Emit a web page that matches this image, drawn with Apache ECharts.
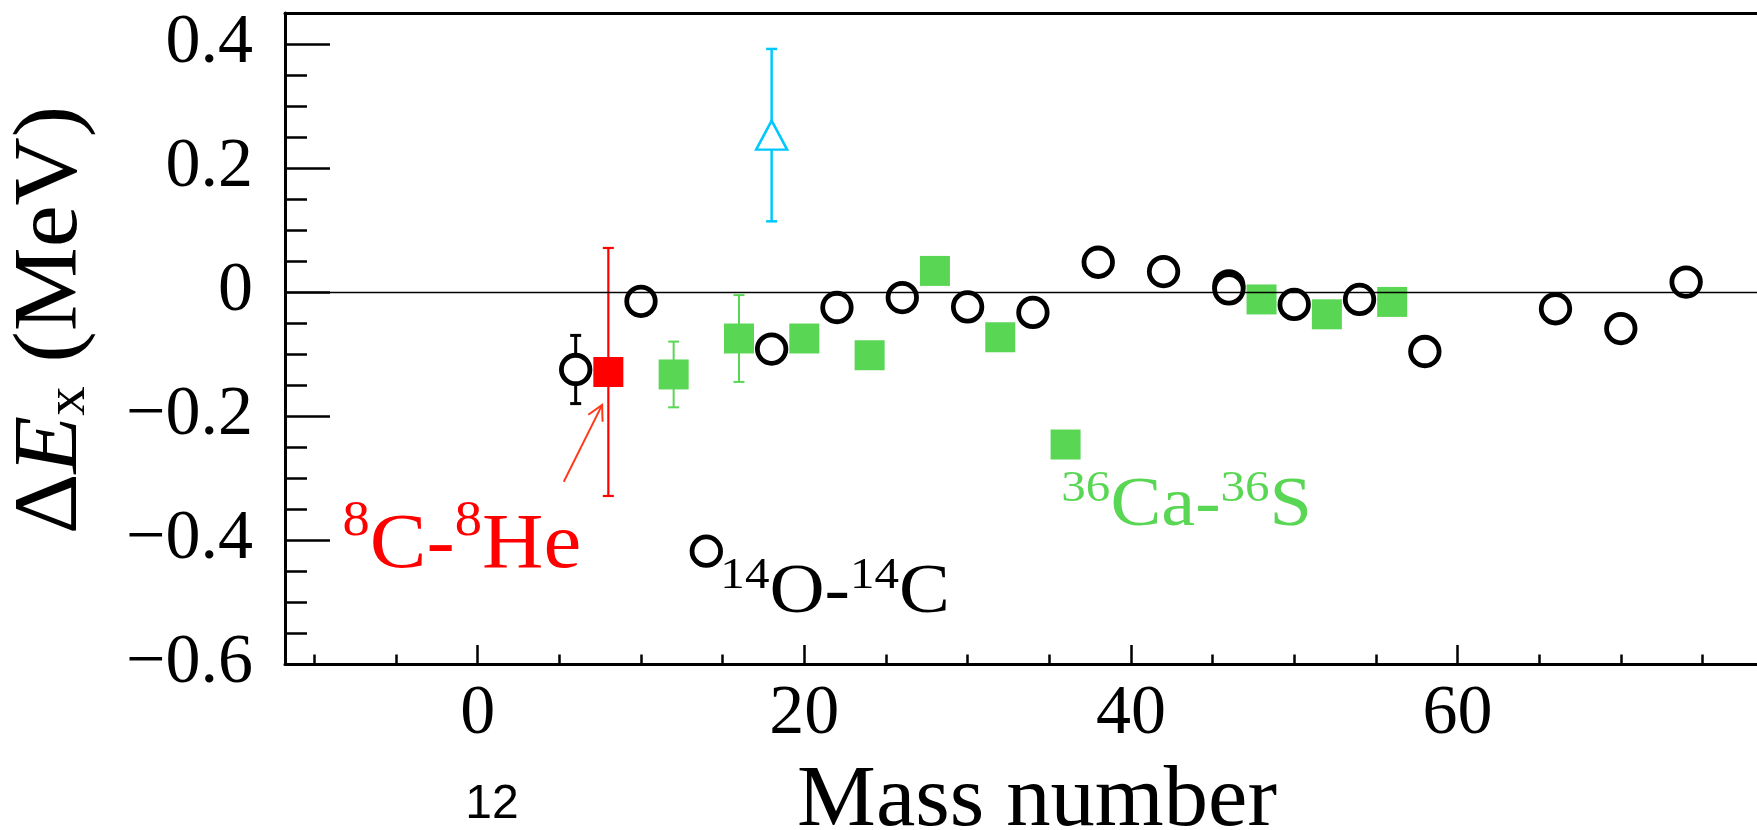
<!DOCTYPE html>
<html>
<head>
<meta charset="utf-8">
<script src="https://cdn.jsdelivr.net/npm/echarts@6/dist/echarts.min.js"></script>
<style>
  html, body { margin: 0; padding: 0; background: #fff; }
  #chart { width: 1757px; height: 830px; }
</style>
</head>
<body>
<div id="chart"></div>
<script>
// Excitation-energy differences of mirror nuclei versus mass number

// Open black circles (systematics)
const circleMass  = [6, 10, 14, 18, 22, 26, 30, 34, 38, 42, 46, 46, 50, 54, 58, 66, 70, 74];
const circleDelta = [-0.125, -0.015, -0.418, -0.092, -0.025, -0.009, -0.024, -0.033, 0.048, 0.033,
                     0.010, 0.005, -0.020, -0.012, -0.096, -0.027, -0.059, 0.016];
const circleErr   = [0.055, 0, 0, 0, 0, 0, 0, 0, 0, 0, 0, 0, 0, 0, 0, 0, 0, 0];

// Filled green squares
const squareMass  = [12, 16, 20, 24, 28, 32, 36, 48, 52, 56];
const squareDelta = [-0.133, -0.075, -0.075, -0.102, 0.034, -0.073, -0.246, -0.012, -0.036, -0.016];
const squareErr   = [0.053, 0.070, 0, 0, 0, 0, 0, 0, 0, 0];

// 8C - 8He (red square)
const c8Mass  = [8];
const c8Delta = [-0.129];
const c8Err   = [0.2];

// Open cyan triangle
const triMass  = [18];
const triDelta = [0.253];
const triErr   = [0.139];

// Axis ticks
const xMajorTicks = [0, 20, 40, 60];
const xMinorTicks = [-10, -5, 5, 10, 15, 25, 30, 35, 45, 50, 55, 65, 70, 75];
const yMajorTicks = [-0.6, -0.4, -0.2, 0, 0.2, 0.4];
const yMinorTicks = [-0.55, -0.5, -0.45, -0.35, -0.3, -0.25, -0.15, -0.1, -0.05,
                     0.05, 0.1, 0.15, 0.25, 0.3, 0.35];

// Annotation labels (anchor = top-left of the text block, in data units)
const labelTexts = ['{s|8}{m|C-}{s|8}{m|He}', '{s|14}{m|O-}{s|14}{m|C}', '{s|36}{m|Ca-}{s|36}{m|S}'];
const labelMass  = [-8.28, 14.86, 35.74];
const labelDelta = [-0.331, -0.422, -0.281];

// Arrow pointing at the 8C point: [tailMass, tailDelta, tipMass, tipDelta]
const arrowPath = [5.27, -0.306, 7.62, -0.182];

const SERIF = '"Liberation Serif", "Times New Roman", serif';
const GREEN = '#5ad655';
const RED = '#ff0000';
const CYAN = '#00c8ff';
const ARROW = '#ff3a1a';

// main text sits on the line bottom, superscripts hang from the line top;
// the line height of the main tokens sets how far the superscripts are raised
function rich(color, mainSize, mainLine, supSize) {
  return {
    m: { fill: color, color: color, fontFamily: SERIF, fontSize: mainSize,
         font: mainSize + 'px ' + SERIF, lineHeight: mainLine, verticalAlign: 'bottom' },
    s: { fill: color, color: color, fontFamily: SERIF, fontSize: supSize,
         font: supSize + 'px ' + SERIF, lineHeight: supSize, verticalAlign: 'top' }
  };
}
const labelRich = [
  rich(RED, 78, 88, 50),
  rich('#000', 70, 75, 45),
  rich(GREEN, 70, 75, 45)
];

function rows(mass, delta, err) {
  return mass.map((m, i) => [m, delta[i], err[i]]);
}

function errorSeries(mass, delta, err, color, width, cap) {
  return {
    type: 'custom',
    z: 2,
    silent: true,
    data: rows(mass, delta, err),
    encode: { x: 0, y: 1 },
    renderItem: function (params, api) {
      const e = api.value(2);
      if (!e) return null;
      const x = api.value(0), y = api.value(1);
      const top = api.coord([x, y + e]);
      const bot = api.coord([x, y - e]);
      const st = { stroke: color, lineWidth: width };
      return {
        type: 'group',
        children: [
          { type: 'line', shape: { x1: top[0], y1: top[1], x2: bot[0], y2: bot[1] }, style: st },
          { type: 'line', shape: { x1: top[0] - cap, y1: top[1], x2: top[0] + cap, y2: top[1] }, style: st },
          { type: 'line', shape: { x1: bot[0] - cap, y1: bot[1], x2: bot[0] + cap, y2: bot[1] }, style: st }
        ]
      };
    }
  };
}

const chart = echarts.init(document.getElementById('chart'), null, { renderer: 'canvas' });

const xMin = -11.8, xMax = 78.34;
const yMin = -0.6, yMax = 0.45;

function xAxisBase(extra) {
  return Object.assign({
    type: 'value', min: xMin, max: xMax, position: 'bottom',
    splitLine: { show: false },
    axisLine: { show: false, onZero: false },
    axisTick: { show: false },
    axisLabel: { show: false }
  }, extra);
}
function yAxisBase(extra) {
  return Object.assign({
    type: 'value', min: yMin, max: yMax, position: 'left',
    splitLine: { show: false },
    axisLine: { show: false, onZero: false },
    axisTick: { show: false },
    axisLabel: { show: false }
  }, extra);
}

const option = {
  animation: false,
  backgroundColor: '#fff',
  grid: { left: 285, right: 0, top: 13, bottom: 166, outerBoundsMode: 'none' },
  xAxis: [
    xAxisBase({
      axisLine: { show: true, onZero: false, lineStyle: { color: '#000', width: 3 } },
      axisTick: { show: true, inside: true, length: 19, customValues: xMajorTicks,
                  lineStyle: { color: '#000', width: 2.5 } },
      axisLabel: { show: true, customValues: xMajorTicks, margin: 16, color: '#000',
                   fontFamily: SERIF, fontSize: 70, formatter: v => String(v) }
    }),
    xAxisBase({
      axisTick: { show: true, inside: true, length: 9.5, customValues: xMinorTicks,
                  lineStyle: { color: '#000', width: 2.5 } }
    }),
    xAxisBase({
      position: 'top',
      axisLine: { show: true, onZero: false, lineStyle: { color: '#000', width: 3 } }
    })
  ],
  yAxis: [
    yAxisBase({
      axisLine: { show: true, onZero: false, lineStyle: { color: '#000', width: 3 } },
      axisTick: { show: true, inside: true, length: 45, customValues: yMajorTicks,
                  lineStyle: { color: '#000', width: 2.5 } },
      axisLabel: { show: true, customValues: yMajorTicks, margin: 32, color: '#000',
                   fontFamily: SERIF, fontSize: 70,
                   formatter: v => (Math.abs(v) < 1e-9 ? '0' : v.toFixed(1).replace('-', '\u2212')) }
    }),
    yAxisBase({
      axisTick: { show: true, inside: true, length: 22, customValues: yMinorTicks,
                  lineStyle: { color: '#000', width: 2.5 } }
    })
  ],
  series: [
    errorSeries(circleMass, circleDelta, circleErr, '#000', 3, 5.5),
    errorSeries(squareMass, squareDelta, squareErr, GREEN, 2, 5.5),
    errorSeries(c8Mass, c8Delta, c8Err, RED, 2.2, 5.5),
    errorSeries(triMass, triDelta, triErr, CYAN, 2.5, 5.5),
    {
      type: 'scatter', z: 3, silent: true,
      data: rows(circleMass, circleDelta, circleErr),
      symbol: 'circle', symbolSize: 28.5,
      itemStyle: { color: '#fff', borderColor: '#000', borderWidth: 4.8, opacity: 1 },
      markLine: {
        silent: true, symbol: ['none', 'none'], label: { show: false },
        lineStyle: { color: '#000', width: 1.3, type: 'solid' },
        data: [{ yAxis: 0 }]
      }
    },
    {
      type: 'scatter', z: 4, silent: true,
      data: rows(squareMass, squareDelta, squareErr),
      symbol: 'rect', symbolSize: 30,
      itemStyle: { color: GREEN, opacity: 1 }
    },
    {
      type: 'scatter', z: 4, silent: true,
      data: rows(c8Mass, c8Delta, c8Err),
      symbol: 'rect', symbolSize: 30,
      itemStyle: { color: RED, opacity: 1 }
    },
    {
      type: 'scatter', z: 4, silent: true,
      data: rows(triMass, triDelta, triErr),
      symbol: 'triangle', symbolSize: [31, 29],
      itemStyle: { color: '#fff', borderColor: CYAN, borderWidth: 2.5, opacity: 1 }
    },
    {
      // nucleus-pair labels
      type: 'custom', z: 5, silent: true,
      data: labelMass.map((m, i) => [m, labelDelta[i], i]),
      encode: { x: 0, y: 1 },
      renderItem: function (params, api) {
        const p = api.coord([api.value(0), api.value(1)]);
        const i = api.value(2);
        return {
          type: 'text', x: p[0], y: p[1], scaleX: 1.09,
          style: { text: labelTexts[i], rich: labelRich[i],
                   align: 'left', verticalAlign: 'top',
                   textAlign: 'left', textVerticalAlign: 'top' }
        };
      }
    },
    {
      // arrow towards the 8C point
      type: 'custom', z: 5, silent: true,
      data: [arrowPath],
      encode: { x: [0, 2], y: [1, 3] },
      renderItem: function (params, api) {
        const a = api.coord([api.value(0), api.value(1)]);
        const b = api.coord([api.value(2), api.value(3)]);
        const dx = a[0] - b[0], dy = a[1] - b[1];
        const len = Math.hypot(dx, dy);
        const ux = dx / len, uy = dy / len;
        const head = 17, ang = 28 * Math.PI / 180;
        const rot = (t) => [b[0] + head * (ux * Math.cos(t) - uy * Math.sin(t)),
                            b[1] + head * (ux * Math.sin(t) + uy * Math.cos(t))];
        const h1 = rot(ang), h2 = rot(-ang);
        const st = { stroke: ARROW, lineWidth: 2, fill: null };
        return {
          type: 'group',
          children: [
            { type: 'line', shape: { x1: a[0], y1: a[1], x2: b[0], y2: b[1] }, style: st },
            { type: 'polyline', shape: { points: [h1, b, h2] }, style: st }
          ]
        };
      }
    }
  ],
  graphic: [
    {
      type: 'text', x: 52.6, y: 320, rotation: Math.PI / 2, scaleX: 1.05, silent: true,
      style: {
        text: '{d|\u0394}{e|E}{s|x}{n| (MeV)}',
        align: 'center', verticalAlign: 'middle',
        textAlign: 'center', textVerticalAlign: 'middle',
        rich: {
          d: { fill: '#000', fontFamily: SERIF, fontSize: 90, font: '90px ' + SERIF,
               lineHeight: 90, verticalAlign: 'top' },
          e: { fill: '#000', fontFamily: SERIF, fontSize: 90, fontStyle: 'italic',
               font: 'italic 90px ' + SERIF, lineHeight: 90, verticalAlign: 'top' },
          s: { fill: '#000', fontFamily: SERIF, fontSize: 56, font: '56px ' + SERIF,
               lineHeight: 40, verticalAlign: 'bottom' },
          n: { fill: '#000', fontFamily: SERIF, fontSize: 90, font: '90px ' + SERIF,
               lineHeight: 90, verticalAlign: 'top' }
        }
      }
    },
    {
      type: 'text', x: 1037, y: 802, scaleX: 1.03, silent: true,
      style: { text: 'Mass number', fill: '#000', font: '86px ' + SERIF,
               fontFamily: SERIF, fontSize: 86,
               align: 'center', verticalAlign: 'middle',
               textAlign: 'center', textVerticalAlign: 'middle' }
    },
    {
      type: 'text', x: 492, y: 805, silent: true,
      style: { text: '12', fill: '#000', font: '48px "Liberation Sans", Arial, sans-serif',
               fontFamily: '"Liberation Sans", Arial, sans-serif', fontSize: 48,
               align: 'center', verticalAlign: 'middle',
               textAlign: 'center', textVerticalAlign: 'middle' }
    }
  ]
};

chart.setOption(option);
</script>
</body>
</html>
